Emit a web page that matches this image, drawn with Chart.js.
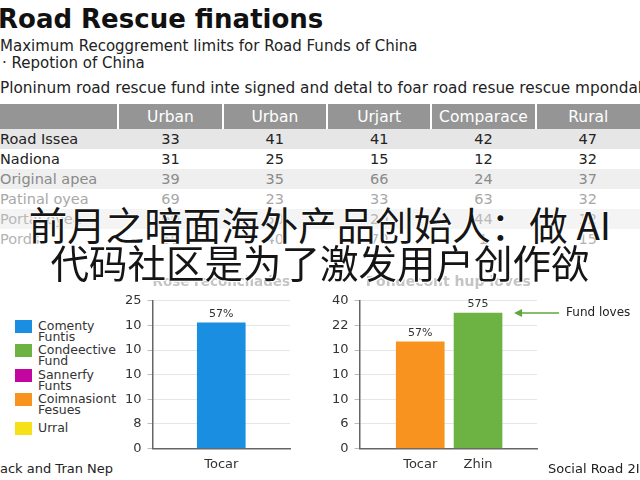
<!DOCTYPE html>
<html>
<head>
<meta charset="utf-8">
<script src="https://cdn.jsdelivr.net/npm/chart.js@4.4.1/dist/chart.umd.min.js"></script>
<style>
  html, body { margin:0; padding:0; background:#fff; }
  body { width:640px; height:480px; position:relative; overflow:hidden; font-family:"DejaVu Sans", sans-serif; color:#222; }
  .abs { position:absolute; white-space:nowrap; }
  #title { left:-2px; top:4px; font-size:26px; font-weight:bold; color:#111; }
  #sub1 { left:0; top:37px; font-size:15px; }
  #sub2 { left:2px; top:54px; font-size:15px; }
  #para { left:0; top:79px; font-size:15.3px; }
  table { position:absolute; left:0; top:104px; width:640px; border-collapse:collapse; font-size:14.5px; table-layout:fixed; }
  th { background:#959595; color:#fff; font-weight:normal; font-size:15.5px; height:25px; border-left:2px solid #fff; padding:0; }
  th:first-child { border-left:none; }
  td { height:20px; padding:0; text-align:center; }
  td:first-child { text-align:left; }
  .overlay { position:absolute; left:0; width:640px; text-align:center; font-family:"Noto Sans CJK SC", sans-serif; font-size:38.5px; line-height:40px; color:#151515;
    text-shadow: 0 0 2px #fff, 0 0 2px #fff, 1px 1px 0 #fff, -1px -1px 0 #fff; }
  .legend-item { position:absolute; left:15px; font-size:12.5px; line-height:11px; color:#333; }
  .legend-item span.sw { position:absolute; left:0; top:0; width:17px; height:13px; }
  .legend-item div { position:absolute; left:23px; top:0; white-space:nowrap; }
  .chartbox { position:absolute; }
</style>
</head>
<body>
<div id="title" class="abs">Road Rescue finations</div>
<div id="sub1" class="abs">Maximum Recoggrement limits for Road Funds of China</div>
<div id="sub2" class="abs">· Repotion of China</div>
<div id="para" class="abs">Ploninum road rescue fund inte signed and detal to foar road resue rescue mpondal</div>
<table id="tbl"></table>

<div id="legend"></div>
<div class="chartbox" style="left:119px; top:272px; width:189px; height:200px;"><canvas id="leftChart"></canvas></div>
<div class="chartbox" style="left:326px; top:272px; width:314px; height:200px;"><canvas id="rightChart"></canvas></div>

<div class="abs" style="left:0; top:461px; font-size:13px;">ack and Tran Nep</div>
<div class="abs" style="left:548px; top:461px; font-size:13px;">Social Road 2I</div>

<div class="overlay" style="top:203px;">前月之暗面海外产品创始人：做 AI</div>
<div class="overlay" style="top:241px;">代码社区是为了激发用户创作欲</div>

<script>
/* ------------------ Data ------------------ */
const colHeaders = ["Urban", "Urban", "Urjart", "Comparace", "Rural"];
const rowNames = ["Road Issea", "Nadiona", "Original apea", "Patinal oyea", "Portal oyea", "Pords"];
const tableValues = [
  [33, 41, 41, 42, 47],
  [31, 25, 15, 12, 32],
  [39, 35, 66, 24, 37],
  [69, 23, 33, 63, 32],
  [60, 50, 20, 44, 12],
  [50, 40, 70, 1, 15]
];

const legendNames = [["Comenty", "Funtis"], ["Condeective", "Fund"], ["Sannerfy", "Funts"], ["Coimnasiont", "Fesues"], ["Urral"]];
const legendColors = ["#1a8ee0", "#6cb344", "#c2069f", "#f7931e", "#f4e11a"];

const leftCategories = ["Tocar"];
const leftValues = [5.1];
const leftBarLabels = ["57%"];
const leftTickLabels = ["0", "8", "10", "10", "10", "10", "25"];

const rightCategories = ["Tocar", "Zhin"];
const rightValues = [4.33, 5.5];
const rightBarLabels = ["57%", "575"];
const rightTickLabels = ["0", "6", "10", "10", "10", "22", "40"];

/* ------------------ Table ------------------ */
const tbl = document.getElementById("tbl");
const rowBg = ["#e6e6e6", "#fff", "#efefef", "#fff", "#f4f4f4", "#fff"];
const rowFg = ["#222", "#222", "#8a8a8a", "#a8a8a8", "#b8b8b8", "#b4b4b4"];
let html = '<colgroup><col style="width:118px">' + colHeaders.map(() => '<col style="width:104px">').join('') + '</colgroup>';
html += '<tr><th></th>' + colHeaders.map(h => `<th>${h}</th>`).join('') + '</tr>';
rowNames.forEach((name, r) => {
  html += `<tr style="background:${rowBg[r]};color:${rowFg[r]}"><td>${name}</td>` + tableValues[r].map(v => `<td>${v}</td>`).join('') + '</tr>';
});
tbl.innerHTML = html;

/* ------------------ Legend ------------------ */
const legendTops = [320, 344, 369, 393, 422];
document.getElementById("legend").innerHTML = legendNames.map((n, i) =>
  `<div class="legend-item" style="top:${legendTops[i]}px"><span class="sw" style="background:${legendColors[i]}"></span><div>${n.join('<br>')}</div></div>`
).join('');

/* ------------------ Plugins ------------------ */
const barTopLabels = {
  id: 'barTopLabels',
  afterDatasetsDraw(chart) {
    const ctx = chart.ctx;
    chart.data.datasets.forEach((ds, di) => {
      chart.getDatasetMeta(di).data.forEach((bar, i) => {
        const t = ds.topLabels && ds.topLabels[i];
        if (!t) return;
        ctx.save();
        ctx.font = '11px "DejaVu Sans"';
        ctx.fillStyle = '#333';
        ctx.textAlign = 'center';
        ctx.textBaseline = 'bottom';
        ctx.fillText(t, bar.x, bar.y - 3);
        ctx.restore();
      });
    });
  }
};

const fundArrow = {
  id: 'fundArrow',
  afterDatasetsDraw(chart) {
    const ctx = chart.ctx;
    const bar = chart.getDatasetMeta(0).data[1];
    const y = chart.scales.y.getPixelForValue(rightValues[1]);
    const x0 = bar.x + bar.width / 2 + 12, x1 = x0 + 45;
    ctx.save();
    ctx.strokeStyle = '#5ea83a'; ctx.fillStyle = '#5ea83a'; ctx.lineWidth = 1.5;
    ctx.beginPath(); ctx.moveTo(x0 + 6, y); ctx.lineTo(x1, y); ctx.stroke();
    ctx.beginPath(); ctx.moveTo(x0, y); ctx.lineTo(x0 + 8, y - 4); ctx.lineTo(x0 + 8, y + 4); ctx.closePath(); ctx.fill();
    ctx.font = '12px "DejaVu Sans"'; ctx.fillStyle = '#222';
    ctx.textAlign = 'left'; ctx.textBaseline = 'middle';
    ctx.fillText('Fund loves', x1 + 7, y);
    ctx.restore();
  }
};

Chart.defaults.font.family = '"DejaVu Sans", sans-serif';
Chart.defaults.font.size = 12;
Chart.defaults.color = '#333';
Chart.defaults.animation = false;

function yScale(labels) {
  return {
    min: 0, max: 6,
    ticks: { stepSize: 1, padding: 6, color: '#333', font: { size: 13 }, callback: v => labels[v] },
    grid: { color: '#e6e6e6', tickLength: 5, tickColor: '#bbb' },
    border: { color: '#666', width: 1.5 }
  };
}

function titleOpts(text) {
  return { display: true, text: text, fullSize: false, color: '#c4c4c4', font: { size: 14, weight: 'bold' }, padding: { top: 2, bottom: 10 } };
}

/* ------------------ Left Chart ------------------ */
new Chart(document.getElementById('leftChart'), {
  type: 'bar',
  data: {
    labels: leftCategories,
    datasets: [{ data: leftValues, backgroundColor: legendColors[0], barThickness: 48, topLabels: leftBarLabels }]
  },
  options: {
    responsive: true, maintainAspectRatio: false,
    layout: { padding: { left: 0, right: 18, bottom: 0 } },
    plugins: { legend: { display: false }, tooltip: { enabled: false }, title: titleOpts('Rose reconcilades') },
    scales: {
      x: { grid: { display: false }, border: { color: '#666', width: 1.5 }, ticks: { padding: 0, font: { size: 13 } } },
      y: yScale(leftTickLabels)
    }
  },
  plugins: [barTopLabels]
});

/* ------------------ Right Chart ------------------ */
new Chart(document.getElementById('rightChart'), {
  type: 'bar',
  data: {
    datasets: [{
      data: rightValues.map((v, i) => ({ x: i, y: v })),
      backgroundColor: [legendColors[3], legendColors[1]],
      barThickness: 48,
      topLabels: rightBarLabels
    }]
  },
  options: {
    responsive: true, maintainAspectRatio: false,
    layout: { padding: { left: 0, right: 103, bottom: 0 } },
    plugins: { legend: { display: false }, tooltip: { enabled: false }, title: titleOpts('Pondecont hup loves') },
    scales: {
      x: {
        type: 'linear', min: -1.05, max: 2.02, offset: false,
        grid: { display: false }, border: { color: '#666', width: 1.5 },
        ticks: { stepSize: 1, padding: 0, autoSkip: false, font: { size: 13 }, callback: v => (Number.isInteger(v) && rightCategories[v]) || '' }
      },
      y: yScale(rightTickLabels)
    }
  },
  plugins: [barTopLabels, fundArrow]
});
</script>
</body>
</html>
